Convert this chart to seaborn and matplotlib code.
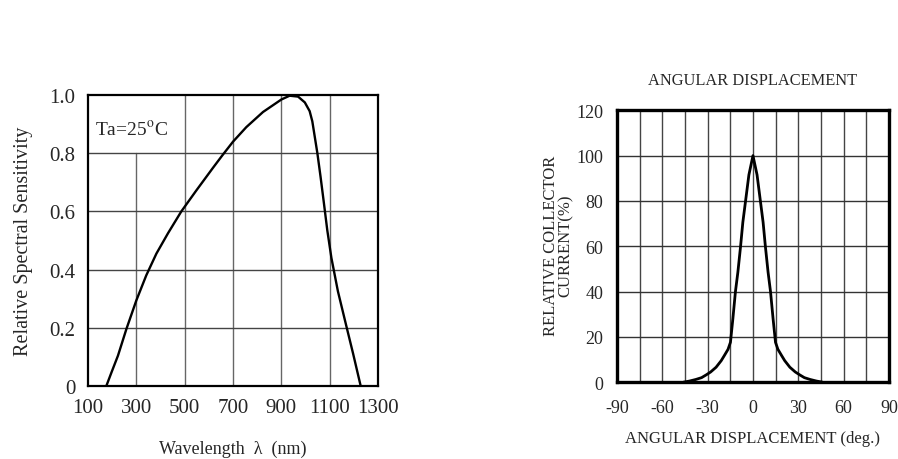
import matplotlib.pyplot as plt
import pandas as pd
import seaborn as sns

# spectral sensitivity curve
wavelength = [176, 197, 224, 259, 300, 341, 383, 431, 486, 548, 617, 655, 700, 755, 824,
              900, 934, 969, 997, 1017, 1028, 1049, 1062, 1075, 1090, 1107, 1134,
              1169, 1197, 1228]
sensitivity = [0.0, 0.046, 0.104, 0.196, 0.294, 0.380, 0.455, 0.525, 0.600, 0.672, 0.750,
               0.792, 0.84, 0.89, 0.942, 0.985, 0.998, 0.995, 0.975, 0.945, 0.91,
               0.80, 0.72, 0.635, 0.535, 0.44, 0.325, 0.205, 0.11, 0.0]
wl_ticks = [100, 300, 500, 700, 900, 1100, 1300]
sens_ticks = [0, 0.2, 0.4, 0.6, 0.8, 1.0]
sens_labels = ['0', '0.2', '0.4', '0.6', '0.8', '1.0']

# angular response
angle = [-46, -42, -37.8, -34, -31, -28, -24.4, -21, -18.9, -16.5, -14.9, -13.3, -11.6, -10,
         -8.2, -6.7, -4.9, -2.7, 0, 2.7, 4.9, 6.7, 8.2, 10, 11.6, 13.3, 14.9, 16.5, 18.9,
         21, 24.4, 28, 31, 34, 37.8, 42, 46]
current = [0, 0.5, 1.2, 2, 3.2, 4.5, 6.6, 9.5, 11.8, 14.5, 17.6, 28, 40, 48.5,
           60, 70.6, 80, 91.5, 100, 91.5, 80, 70.6, 60, 48.5, 40, 28, 17.6, 14.5, 11.8,
           9.5, 6.6, 4.5, 3.2, 2, 1.2, 0.5, 0]
ang_ticks = [-90, -60, -30, 0, 30, 60, 90]
cur_ticks = [0, 20, 40, 60, 80, 100, 120]

sns.set_style('white')
plt.rcParams['font.family'] = ['Liberation Serif', 'DejaVu Serif']
plt.rcParams['mathtext.fontset'] = 'stix'
plt.rcParams['axes.unicode_minus'] = False

fig = plt.figure(figsize=(8.98, 4.6), dpi=100)

# --- left: spectral sensitivity ---
ax1 = fig.add_axes([0.098, 0.159, 0.323, 0.632])
df1 = pd.DataFrame({'wl': wavelength, 's': sensitivity})
sns.lineplot(data=df1, x='wl', y='s', ax=ax1, color='black', linewidth=1.7, sort=False)
ax1.set_xlim(100, 1300)
ax1.set_ylim(0, 1.0)
for x in wl_ticks[1:-1]:
    ymax = 0.8 if x == 300 else 1.0
    ax1.axvline(x, ymin=0, ymax=ymax, color='#666666', linewidth=1.0, zorder=0)
for y in sens_ticks[1:-1]:
    ax1.axhline(y, color='#444444', linewidth=1.0, zorder=0)
ax1.set_xticks(wl_ticks)
ax1.set_yticks(sens_ticks)
ax1.set_yticklabels(sens_labels)
ax1.tick_params(axis='both', length=0, labelsize=15, pad=9)
for s in ax1.spines.values():
    s.set_color('black')
    s.set_linewidth(1.6)
ax1.set_xlabel('Wavelength  λ  (nm)', fontsize=13, labelpad=16)
ax1.set_ylabel('Relative Spectral Sensitivity', fontsize=14.5, labelpad=12)
ax1.text(129, 0.885, 'Ta=25$^{\\rm o}$C', fontsize=14, va='center')

# --- right: angular displacement ---
ax2 = fig.add_axes([0.687, 0.167, 0.303, 0.591])
df2 = pd.DataFrame({'ang': angle, 'cur': current})
sns.lineplot(data=df2, x='ang', y='cur', ax=ax2, color='black', linewidth=2.0, sort=False)
ax2.set_xlim(-90, 90)
ax2.set_ylim(0, 120)
for x in range(-75, 90, 15):
    ax2.axvline(x, color='#444444', linewidth=1.0, zorder=0)
for y in cur_ticks[1:-1]:
    ax2.axhline(y, color='#333333', linewidth=1.0, zorder=0)
ax2.set_xticks(ang_ticks)
ax2.set_yticks(cur_ticks)
ax2.tick_params(axis='both', length=0, labelsize=13)
ax2.tick_params(axis='x', pad=12)
ax2.tick_params(axis='y', pad=10)
for s in ax2.spines.values():
    s.set_color('black')
    s.set_linewidth(2.4)
ax2.set_title('ANGULAR DISPLACEMENT', fontsize=11.8, pad=19)
ax2.set_xlabel('ANGULAR DISPLACEMENT (deg.)', fontsize=12, labelpad=10)
ax2.set_ylabel('')
fig.text(0.622, 0.465, 'RELATIVE COLLECTOR\nCURRENT(%)', rotation=90,
         ha='center', va='center', fontsize=12, linespacing=0.9)

fig.savefig('out.png', dpi=100, facecolor='white')
